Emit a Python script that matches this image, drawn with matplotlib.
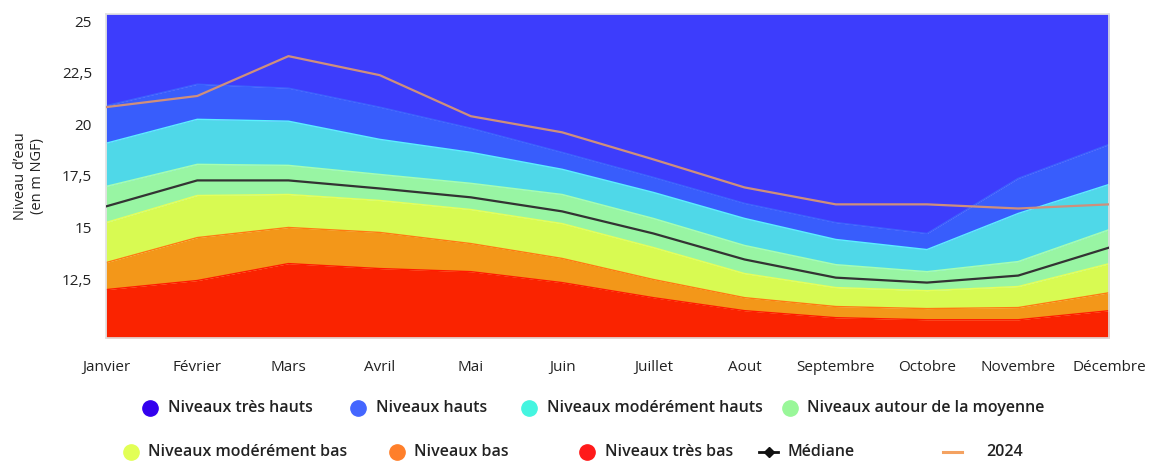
import matplotlib
matplotlib.use("Agg")
import matplotlib.pyplot as plt
from matplotlib.lines import Line2D

plt.rcParams['font.family'] = ['Open Sans', 'DejaVu Sans']

mois = ["Janvier", "Février", "Mars", "Avril", "Mai", "Juin", "Juillet",
        "Aout", "Septembre", "Octobre", "Novembre", "Décembre"]

# upper limits of each band (m NGF)
tres_bas = [11.99, 12.43, 13.25, 13.01, 12.86, 12.33, 11.60, 10.97, 10.63, 10.53, 10.53, 10.97]
bas = [13.30, 14.51, 15.00, 14.76, 14.22, 13.50, 12.48, 11.60, 11.17, 11.07, 11.12, 11.84]
moderement_bas = [15.24, 16.55, 16.60, 16.31, 15.87, 15.19, 14.03, 12.77, 12.09, 11.94, 12.14, 13.25]
moyenne = [16.99, 18.06, 18.01, 17.57, 17.14, 16.60, 15.44, 14.13, 13.20, 12.86, 13.35, 14.90]
moderement_hauts = [19.08, 20.24, 20.15, 19.27, 18.64, 17.82, 16.70, 15.44, 14.42, 13.93, 15.68, 17.09]
hauts = [20.90, 21.94, 21.75, 20.83, 19.81, 18.64, 17.43, 16.17, 15.24, 14.71, 17.38, 19.03]
mediane = [16.02, 17.28, 17.28, 16.89, 16.46, 15.78, 14.71, 13.45, 12.57, 12.33, 12.67, 14.03]
niveaux_2024 = [20.83, 21.37, 23.30, 22.38, 20.39, 19.61, 18.30, 16.94, 16.12, 16.12, 15.92, 16.12]

y_ticks = [12.5, 15, 17.5, 20, 22.5, 25]
y_labels = ["12,5", "15", "17,5", "20", "22,5", "25"]

ymin, ymax = 9.65, 25.35
x = list(range(len(mois)))

fig = plt.figure(figsize=(11.56, 4.61), dpi=100)
ax = fig.add_axes([0.0917, 0.267, 0.868, 0.703])

bands = [
    ([ymin] * len(x), tres_bas, "#fa2300", "#ff1a00"),
    (tres_bas, bas, "#f39719", "#ff7a10"),
    (bas, moderement_bas, "#d8fa52", "#e4ff5a"),
    (moderement_bas, moyenne, "#98f5a3", "#a5ffb0"),
    (moyenne, moderement_hauts, "#4fd8e8", "#5af0ff"),
    (moderement_hauts, hauts, "#385dfc", "#3b62ff"),
    (hauts, [ymax] * len(x), "#3d3dfc", None),
]
for low, high, fc, ec in bands:
    ax.fill_between(x, low, high, color=fc, linewidth=0, zorder=1)
    if ec:
        ax.plot(x, high, color=ec, linewidth=1, zorder=2)

ax.plot(x, mediane, color="#333333", linewidth=1.6, zorder=3)
ax.plot(x, niveaux_2024, color="#cf8f7c", linewidth=1.6, zorder=4)

ax.set_xlim(0, 11)
ax.set_ylim(ymin, ymax)
ax.set_xticks(x)
ax.set_xticklabels(mois, fontsize=11, color="#222222")
ax.set_yticks(y_ticks)
ax.set_yticklabels(y_labels, fontsize=11, color="#222222")
ax.tick_params(length=0, pad=16, axis="x")
ax.tick_params(length=0, pad=10, axis="y")
for s in ax.spines.values():
    s.set_color("#e0e0e0")
    s.set_linewidth(1.2)
ax.set_ylabel("Niveau d’eau\n(en m NGF)", fontsize=10.5, color="#222222", labelpad=12)

# legend
legend_rows = [
    [("o", "#3300ee", "Niveaux très hauts", 0.130),
     ("o", "#4466ff", "Niveaux hauts", 0.310),
     ("o", "#44f5e0", "Niveaux modérément hauts", 0.458),
     ("o", "#99f799", "Niveaux autour de la moyenne", 0.683)],
    [("o", "#e2ff55", "Niveaux modérément bas", 0.113),
     ("o", "#ff7f2a", "Niveaux bas", 0.343),
     ("o", "#ff1a1a", "Niveaux très bas", 0.508),
     ("P", "#111111", "Médiane", 0.665),
     ("-", "#f4a261", "2024", 0.823)],
]
row_y = [0.115, 0.020]
for row, yy in zip(legend_rows, row_y):
    for marker, color, label, xx in row:
        if marker == "-":
            fig.add_artist(Line2D([xx - 0.007, xx + 0.009], [yy, yy], color=color,
                                  linewidth=2.2, transform=fig.transFigure))
            tx = xx + 0.030
        elif marker == "P":
            fig.add_artist(Line2D([xx - 0.008, xx + 0.008], [yy, yy], color=color,
                                  linewidth=2, transform=fig.transFigure))
            fig.add_artist(Line2D([xx], [yy], marker="D", markersize=5, color=color,
                                  transform=fig.transFigure))
            tx = xx + 0.016
        else:
            fig.add_artist(Line2D([xx], [yy], marker="o", markersize=11, color=color,
                                  linestyle="none", transform=fig.transFigure))
            tx = xx + 0.015
        fig.text(tx, yy, label, fontsize=11.5, fontweight="semibold", color="#222222",
                 va="center", ha="left")

fig.savefig("out.png", dpi=100)
